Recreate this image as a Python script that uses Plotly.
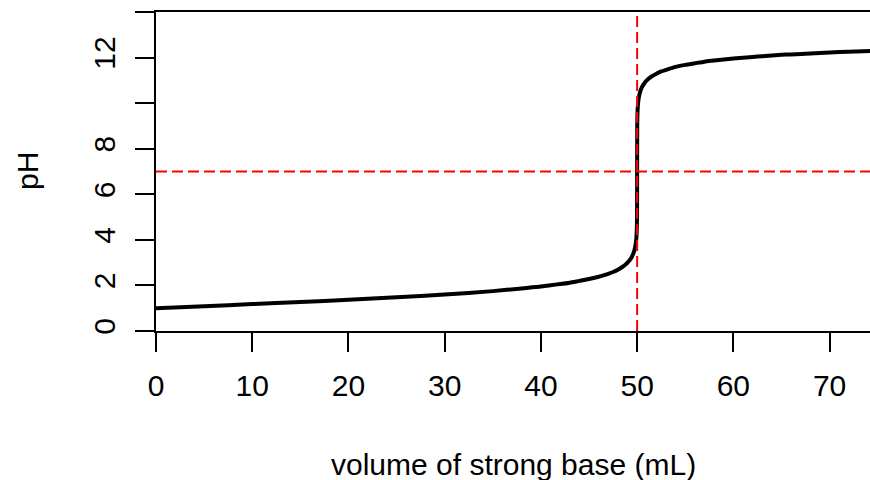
import plotly.graph_objects as go

# Titration curve: volume of strong base (mL) vs pH
volume_ml = [0, 5, 10, 15, 20, 25, 30, 35, 38, 40, 41, 42, 43, 44, 45, 46, 46.5,
             47, 47.5, 48, 48.5, 48.8, 49, 49.3, 49.5, 49.7, 49.8, 49.85, 49.9,
             49.95, 49.99, 50, 50.01, 50.05, 50.1, 50.15, 50.2, 50.3, 50.5, 50.7,
             51, 51.5, 52, 52.5, 53, 54, 55, 56, 57, 58, 59, 60, 62, 63, 65, 66,
             68, 70, 72, 75]
ph_values = [1.00, 1.09, 1.18, 1.27, 1.37, 1.48, 1.60, 1.75, 1.87, 1.95, 2.01,
             2.06, 2.12, 2.20, 2.28, 2.38, 2.44, 2.51, 2.59, 2.69, 2.82, 2.92,
             3.00, 3.15, 3.30, 3.52, 3.70, 3.82, 4.00, 4.30, 5.00, 7.00, 9.00,
             9.70, 10.00, 10.18, 10.30, 10.48, 10.70, 10.84, 11.00, 11.17, 11.29,
             11.39, 11.46, 11.59, 11.68, 11.75, 11.82, 11.87, 11.92, 11.96, 12.03,
             12.06, 12.12, 12.14, 12.18, 12.22, 12.26, 12.30]

equivalence_volume = 50
neutral_ph = 7

x_tick_vals = [0, 10, 20, 30, 40, 50, 60, 70]
x_tick_text = ["0", "10", "20", "30", "40", "50", "60", "70"]
y_tick_vals = [0, 2, 4, 6, 8, 10, 12, 14]
y_tick_text = ["0", "2", "4", "6", "8", "", "12", ""]

FONT = "Liberation Sans, Arial, sans-serif"
FS = 30

fig = go.Figure()
fig.add_trace(go.Scatter(x=volume_ml, y=ph_values, mode="lines",
                         line=dict(color="black", width=4, shape="spline",
                                   smoothing=0.6),
                         showlegend=False, hoverinfo="skip"))

fig.add_shape(type="line", xref="x", yref="y", x0=equivalence_volume, x1=equivalence_volume,
              y0=0, y1=14, line=dict(color="red", width=2, dash="11px,5px"))
fig.add_shape(type="line", xref="x", yref="y", x0=0, x1=74.2,
              y0=neutral_ph, y1=neutral_ph, line=dict(color="red", width=2, dash="11px,5px"))

fig.update_layout(
    width=870, height=480,
    margin=dict(l=156, r=0, t=12, b=149),
    paper_bgcolor="white", plot_bgcolor="white",
    font=dict(family=FONT, size=FS, color="black"),
    xaxis=dict(range=[0, 74.2], tickvals=x_tick_vals, ticktext=x_tick_text,
               showgrid=False, zeroline=False, showline=True, linecolor="black",
               linewidth=1.5, mirror=True, ticks="outside", ticklen=19,
               tickwidth=1.5, tickcolor="black", ticklabelstandoff=8,
               tickfont=dict(size=FS)),
    yaxis=dict(range=[0, 14], tickvals=y_tick_vals, ticktext=y_tick_text,
               showgrid=False, zeroline=False, showline=True, linecolor="black",
               linewidth=1.5, ticks="outside", ticklen=19, tickwidth=1.5,
               tickcolor="black", tickangle=-90, ticklabelstandoff=8,
               tickfont=dict(size=FS)),
    annotations=[
        dict(text="volume of strong base (mL)", xref="paper", yref="paper",
             x=0.5, y=(331 - 464) / 319, xanchor="center",
             yanchor="middle", showarrow=False, font=dict(size=FS)),
        dict(text="pH", xref="paper", yref="paper", x=(27 - 156) / 714,
             y=(331 - 171) / 319, xanchor="center", yanchor="middle",
             textangle=-90, showarrow=False, font=dict(size=FS)),
    ],
)

fig.write_html("out.html",
               config={"displayModeBar": False},
               post_script="document.body.style.margin='0';"
                           "document.body.style.overflow='hidden';")
